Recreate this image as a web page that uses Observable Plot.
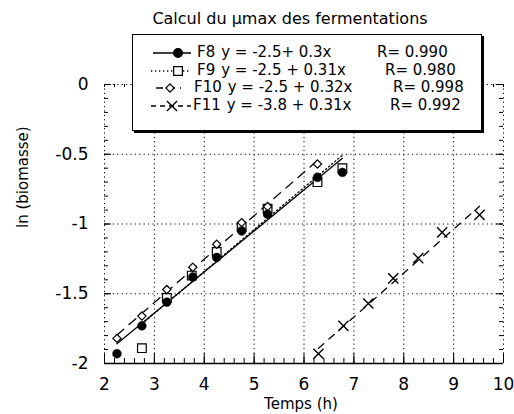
<!DOCTYPE html>
<html><head><meta charset="utf-8">
<script src="https://cdn.jsdelivr.net/npm/d3@7"></script>
<script src="https://cdn.jsdelivr.net/npm/@observablehq/plot@0.6"></script>
<style>
html,body{margin:0;padding:0;background:#fff;}
#wrap{position:relative;width:514px;height:414px;font-family:"DejaVu Sans",sans-serif;color:#000;overflow:hidden;}
#chart{position:absolute;left:0;top:0;}
#title{position:absolute;left:0;width:580px;top:11px;text-align:center;font-size:16px;line-height:16px;white-space:pre;}
#legend{position:absolute;left:132px;top:34px;width:348px;height:95px;border:1px solid #000;box-shadow:2px 2px 0 #000;background:#fff;}
.row{position:absolute;left:0;width:346px;height:17.5px;font-size:15px;line-height:17.5px;white-space:pre;}
.row svg{position:absolute;left:17px;top:0;}
.txt{position:absolute;top:0;}
.eq{margin-left:6px;}
.rr{position:absolute;top:0;}
</style>
</head><body>
<div id="wrap"><div id="chart"></div><div id="title"></div><div id="legend"></div></div>
<script>
// ---- data ----
const titleText = "Calcul du µmax des fermentations";
const xLabel = "Temps (h)";
const yLabel = "ln (biomasse)";

const xTicks = [2, 3, 4, 5, 6, 7, 8, 9, 10];
const xTickLabels = ["2", "3", "4", "5", "6", "7", "8", "9", "10"];
const yTicks = [-2, -1.5, -1, -0.5, 0];
const yTickLabels = ["-2", "-1.5", "-1", "-0.5", "0"];

const f8x = [2.25, 2.75, 3.25, 3.77, 4.25, 4.75, 5.27, 6.27, 6.77];
const f8y = [-1.93, -1.73, -1.56, -1.38, -1.24, -1.05, -0.93, -0.665, -0.63];
const f9x = [2.75, 3.25, 3.75, 4.25, 4.75, 5.27, 6.27, 6.77];
const f9y = [-1.89, -1.53, -1.37, -1.20, -1.02, -0.89, -0.70, -0.60];
const f10x = [2.25, 2.75, 3.25, 3.77, 4.25, 4.75, 5.27, 6.27];
const f10y = [-1.82, -1.66, -1.47, -1.31, -1.145, -0.99, -0.875, -0.57];
const f11x = [6.29, 6.79, 7.29, 7.79, 8.29, 8.77, 9.52];
const f11y = [-1.93, -1.73, -1.57, -1.39, -1.245, -1.06, -0.935];

const legendNames = ["F8", "F9", "F10", "F11"];
const legendEq = ["y = -2.5+ 0.3x", "y = -2.5 + 0.31x", "y = -2.5 + 0.32x", "y = -3.8 + 0.31x"];
const legendR = ["R= 0.990", "R= 0.980", "R= 0.998", "R= 0.992"];

// ---- layout ----
const W = 514, H = 414, mL = 104, mR = 11, mT = 84, mB = 51;
const fw = W - mL - mR, fh = H - mT - mB;
const pts = (xs, ys) => xs.map((x, i) => ({x, y: ys[i]}));
const F8 = pts(f8x, f8y), F9 = pts(f9x, f9y), F10 = pts(f10x, f10y), F11 = pts(f11x, f11y);

const xMinor = d3.range(2, 10.001, 0.2);
const yMinor = d3.range(-2, 0.001, 0.1);
const dotted = {stroke: "#000", strokeWidth: 1, strokeDasharray: "1.2,3.2"};
const tk = {stroke: "#000", strokeWidth: 1};

const style = {
  F8: {dash: null, sym: "circle", r: 4.4, fill: "#000"},
  F9: {dash: "1.3,2.7", sym: "square", r: 4.9, fill: "#fff"},
  F10: {dash: "9,7", sym: "diamond2", r: 3.7, fill: "#fff"},
  F11: {dash: "7,7", sym: "times", r: 4.7, fill: "none"}
};

const chart = Plot.plot({
  width: W, height: H, marginLeft: mL, marginRight: mR, marginTop: mT, marginBottom: mB,
  x: {domain: [2, 10]},
  y: {domain: [-2, 0]},
  style: {fontFamily: "DejaVu Sans", fontSize: "17px", background: "transparent", color: "#000", overflow: "visible"},
  marks: [
    Plot.ruleX(xTicks, {...dotted}),
    Plot.ruleY(yTicks.filter(d => d > -2), {...dotted}),
    // inward ticks
    Plot.ruleX(xMinor, {...tk, insetTop: fh - 5}),
    Plot.ruleX(xTicks, {...tk, insetTop: fh - 10}),
    Plot.ruleX(xMinor, {...tk, insetBottom: fh - 3}),
    Plot.ruleY(yMinor, {...tk, insetRight: fw - 4}),
    Plot.ruleY(yTicks, {...tk, insetRight: fw - 7}),
    Plot.ruleY(yMinor, {...tk, insetLeft: fw - 4}),
    Plot.ruleY(yTicks, {...tk, insetLeft: fw - 7}),
    Plot.ruleY([-2], {stroke: "#000", strokeWidth: 1.6}),
    Plot.axisX({ticks: xTicks, tickSize: 0, tickPadding: 14, tickFormat: d => xTickLabels[xTicks.indexOf(d)], label: null, fontSize: 17}),
    Plot.axisY({ticks: yTicks, tickSize: 0, tickPadding: 16, tickFormat: d => yTickLabels[yTicks.indexOf(d)], label: null, fontSize: 17}),
    Plot.text([xLabel], {text: d => d, frameAnchor: "bottom", lineAnchor: "middle", dy: 41, dx: -3, fontSize: 15}),
    Plot.text([yLabel], {text: d => d, frameAnchor: "left", lineAnchor: "middle", rotate: -90, dx: -81, dy: 4, fontSize: 15}),
    // fit lines
    Plot.linearRegressionY(F8, {x: "x", y: "y", ci: 0, stroke: "#000", strokeWidth: 1.3}),
    Plot.linearRegressionY(F9, {x: "x", y: "y", ci: 0, stroke: "#000", strokeWidth: 1.3, strokeDasharray: style.F9.dash}),
    Plot.linearRegressionY(F10, {x: "x", y: "y", ci: 0, stroke: "#000", strokeWidth: 1.3, strokeDasharray: style.F10.dash}),
    Plot.linearRegressionY(F11, {x: "x", y: "y", ci: 0, stroke: "#000", strokeWidth: 1.3, strokeDasharray: style.F11.dash}),
    // markers
    Plot.dot(F9, {x: "x", y: "y", symbol: "square", r: style.F9.r, fill: "#fff", stroke: "#000", strokeWidth: 1.2}),
    Plot.dot(F10, {x: "x", y: "y", symbol: "diamond2", r: style.F10.r, fill: "#fff", stroke: "#000", strokeWidth: 1.2}),
    Plot.dot(F11, {x: "x", y: "y", symbol: "times", r: style.F11.r, stroke: "#000", strokeWidth: 1.4}),
    Plot.dot(F8, {x: "x", y: "y", symbol: "circle", r: style.F8.r, fill: "#000", stroke: "#000", strokeWidth: 0.5})
  ]
});
document.getElementById("chart").appendChild(chart);
document.getElementById("title").textContent = titleText;

// ---- legend ----
const legend = document.getElementById("legend");
const rowTops = [9, 26.5, 44, 61.5];
const nameLeft = [64, 64, 61, 60];
const rLeft = [244, 252, 260, 257];
const markerX = [28, 28, 20, 22];
const lineX = [[3, 41], [1, 41], [6, 31], [1, 41]];
const symMap = {circle: d3.symbolCircle, square: d3.symbolSquare, diamond2: d3.symbolDiamond2, times: d3.symbolTimes};
["F8", "F9", "F10", "F11"].forEach((k, i) => {
  const s = style[k];
  const row = document.createElement("div");
  row.className = "row";
  row.style.top = rowTops[i] + "px";
  legend.appendChild(row);
  const svg = d3.select(row).append("svg").attr("width", 46).attr("height", 17);
  const ln = svg.append("line").attr("x1", lineX[i][0]).attr("x2", lineX[i][1]).attr("y1", 9).attr("y2", 9)
    .attr("stroke", "#000").attr("stroke-width", 1.3);
  if (s.dash) ln.attr("stroke-dasharray", k === "F10" ? "7,5" : k === "F11" ? "5,4" : s.dash);
  svg.append("path").attr("transform", `translate(${markerX[i]},9)`)
    .attr("d", d3.symbol(symMap[s.sym], Math.PI * s.r * s.r)())
    .attr("fill", s.fill).attr("stroke", "#000").attr("stroke-width", s.sym === "times" ? 1.4 : 1.2);
  const txt = document.createElement("span"); txt.className = "txt"; txt.style.left = nameLeft[i] + "px";
  const nm = document.createElement("span"); nm.textContent = legendNames[i];
  const eq = document.createElement("span"); eq.className = "eq"; eq.textContent = legendEq[i];
  txt.appendChild(nm); txt.appendChild(eq); row.appendChild(txt);
  const rr = document.createElement("span"); rr.className = "rr"; rr.style.left = rLeft[i] + "px"; rr.textContent = legendR[i];
  row.appendChild(rr);
});
</script>
</body></html>
